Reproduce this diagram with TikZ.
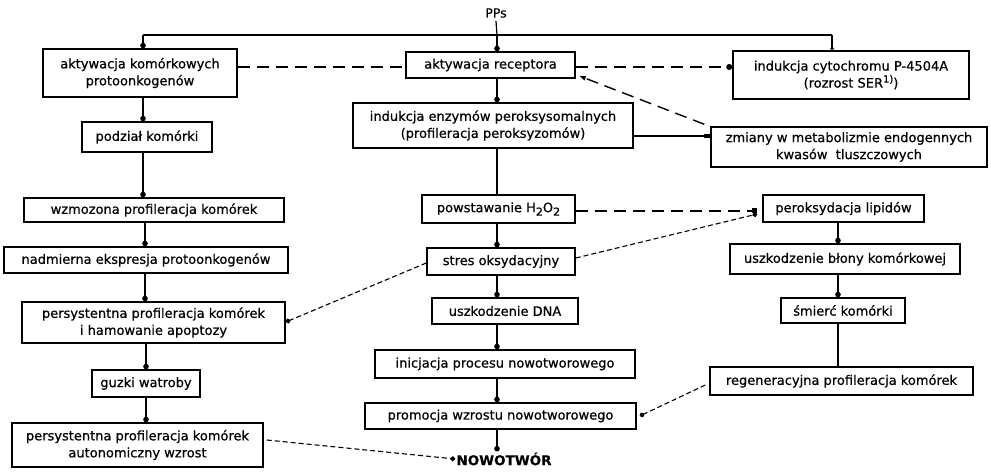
\documentclass[tikz,border=0pt]{standalone}
\usepackage{fontspec}
\setmainfont{DejaVu Sans}[FakeBold=0.6]
\usetikzlibrary{arrows.meta,calc}
\newcommand\subtwo{\raisebox{-3.5pt}{\fontsize{11}{11}\selectfont 2}}
\begin{document}
\begin{tikzpicture}[x=1pt,y=-1pt,
  box/.style={draw,line width=1.5pt,inner sep=0pt,align=center,font=\fontsize{13}{17}\selectfont},
  arr/.style={line width=1.2pt,-{Circle[length=5.5pt]}},
  ln/.style={line width=1.2pt},
  ldash/.style={line width=1.4pt,dash pattern=on 12pt off 7pt},
  sdash/.style={line width=1.1pt,dash pattern=on 5pt off 3pt},
]
\useasboundingbox (0,0) rectangle (991,473);
% columns
\coordinate (cL) at (145,0);
\coordinate (cC) at (497,0);
\coordinate (cR) at (838,0);
% left column
\node[box,minimum width=194pt,minimum height=48pt] (b1) at (140,73) {aktywacja komórkowych\\protoonkogenów};
\node[box,minimum width=130pt,minimum height=30pt] (pod) at (147,137) {podział komórki};
\node[box,minimum width=260pt,minimum height=24pt] (wzm) at (154,210) {wzmozona profileracja komórek};
\node[box,minimum width=284pt,minimum height=26pt] (nad) at (146,260) {nadmierna ekspresja protoonkogenów};
\node[box,minimum width=263pt,minimum height=41pt] (per1) at (153.5,322.5) {persystentna profileracja komórek\\i hamowanie apoptozy};
\node[box,minimum width=108pt,minimum height=27pt] (guz) at (146,383.5) {guzki watroby};
\node[box,minimum width=251pt,minimum height=44pt] (per2) at (137.5,445) {persystentna profileracja komórek\\autonomiczny wzrost};
% centre column
\node[font=\fontsize{12.5}{14}\selectfont] (pps) at (496,13) {PPs};
\node[box,minimum width=169pt,minimum height=26pt] (rec) at (490.5,65) {aktywacja receptora};
\node[box,minimum width=280pt,minimum height=45pt] (ind) at (493,125.5) {indukcja enzymów peroksysomalnych\\(profileracja peroksyzomów)};
\node[box,minimum width=153pt,minimum height=28pt] (pow) at (498.5,209) {powstawanie H\subtwo O\subtwo};
\node[box,minimum width=148pt,minimum height=27pt] (str) at (501,261.5) {stres oksydacyjny};
\node[box,minimum width=146pt,minimum height=26pt] (dna) at (505,311) {uszkodzenie DNA};
\node[box,minimum width=260pt,minimum height=28pt] (ini) at (505,364) {inicjacja procesu nowotworowego};
\node[box,minimum width=271pt,minimum height=26pt] (pro) at (500.5,416) {promocja wzrostu nowotworowego};
\node[font=\fontsize{13.5}{15}\selectfont\bfseries,inner sep=1pt] (now) at (504,459) {NOWOTWÓR};
% right column
\node[box,minimum width=236pt,minimum height=48pt] (cyt) at (851,75) {indukcja cytochromu P-4504A\\(rozrost SER\raisebox{5pt}{\fontsize{10}{10}\selectfont 1)})};
\node[box,minimum width=276pt,minimum height=40pt] (zmi) at (849,147) {zmiany w metabolizmie endogennych\\kwasów \ tluszczowych};
\node[box,minimum width=161pt,minimum height=27pt] (per) at (843.5,208.5) {peroksydacja lipidów};
\node[box,minimum width=230pt,minimum height=30pt] (bl) at (845,259) {uszkodzenie błony komórkowej};
\node[box,minimum width=124pt,minimum height=25pt] (sm) at (843,310.5) {śmierć komórki};
\node[box,minimum width=263pt,minimum height=28pt] (reg) at (841.5,381) {regeneracyjna profileracja komórek};
% top distribution line
\coordinate (jn) at (497,35);
\coordinate (jl) at (143,35);
\coordinate (jr) at (832,35);
\draw[ln] (pps.south) -- (jn);
\draw[ln] (jl) -- (jr);
\draw[arr] (jn) -- (rec.north -| cC);
\draw[arr] (jl) -- (b1.north -| jl);
\draw[line width=1.2pt,-{Circle[length=3.5pt]}] (jr) -- (cyt.north -| jr);
% left column arrows
\draw[arr] (b1.south -| jl) -- (pod.north -| jl);
\draw[arr] (pod.south -| jl) -- (wzm.north -| jl);
\draw[arr] (wzm.south -| cL) -- (nad.north -| cL);
\draw[arr] (nad.south -| cL) -- (per1.north -| cL);
\draw[arr] (per1.south -| guz.north) -- (guz.north);
\draw[arr] (guz.south) -- (per2.north -| guz.south);
% centre column arrows
\draw[arr] (rec.south -| cC) -- (ind.north -| cC);
\draw[ln] (ind.south -| cC) -- (pow.north -| cC);
\draw[arr] (pow.south -| cC) -- (str.north -| cC);
\draw[arr] (str.south -| cC) -- (dna.north -| cC);
\draw[arr] (dna.south -| cC) -- (ini.north -| cC);
\draw[arr] (ini.south -| cC) -- (pro.north -| cC);
\draw[arr] (pro.south -| cC) -- (now.north -| cC);
% right column arrows
\draw[arr] (per.south -| cR) -- (bl.north -| cR);
\draw[arr] (bl.south -| cR) -- (sm.north -| cR);
\draw[ln] (sm.south -| cR) -- (reg.north -| cR);
% cross links
\draw[ldash] (b1.east |- 0,67) -- (rec.west |- 0,67);
\draw[ldash,-{Circle[length=6pt]}] (rec.east |- 0,67) -- (cyt.west |- 0,67);
\draw[ln,-{Rectangle[length=6pt,width=3.5pt]}] (ind.east |- 0,136) -- (zmi.west |- 0,136);
\draw[ldash,-{Latex[length=7pt,width=5pt]}] ([xshift=-6pt,yshift=2pt]zmi.north west) -- ($(rec.south east)+(3,-3)$);
\draw[ldash,-{Square[length=5pt]}] (pow.east |- 0,211) -- ([xshift=-5pt]per.west |- 0,211);
\draw[sdash,-{Circle[length=5pt]}] (str.east |- 0,258) -- ([xshift=-5pt]per.west |- 0,214);
\draw[sdash,-{Circle[length=5pt]}] (str.west |- 0,263) -- (per1.east |- 0,322);
\draw[sdash,-{Circle[length=5pt]}] ([xshift=-4pt]reg.west |- 0,385) -- ([xshift=3pt]pro.east);
\draw[sdash,-{Circle[length=5pt]}] ([xshift=3pt]per2.east |- 0,440) -- (now.west);
\end{tikzpicture}
\end{document}
